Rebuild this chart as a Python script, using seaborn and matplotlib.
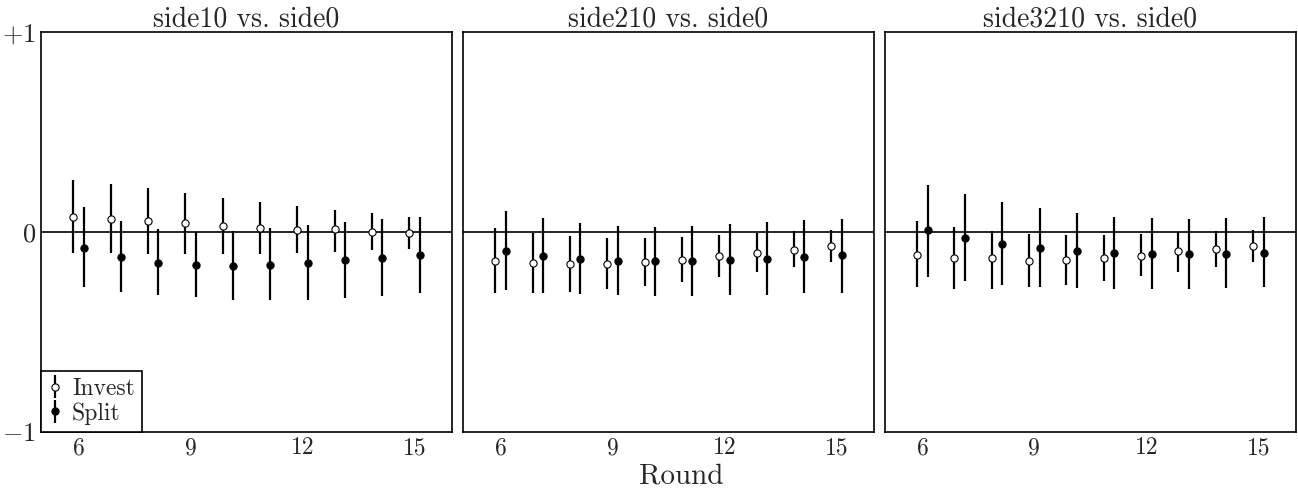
import numpy as np
import pandas as pd
import matplotlib
matplotlib.use("Agg")
import matplotlib.pyplot as plt
import seaborn as sns

# values
rounds = [6, 7, 8, 9, 10, 11, 12, 13, 14, 15]
panels = ["side10 vs. side0", "side210 vs. side0", "side3210 vs. side0"]

# side10 vs. side0
invest_mid_1 = [0.077, 0.067, 0.057, 0.043, 0.032, 0.022, 0.008, 0.013, 0.002, -0.003]
invest_top_1 = [0.260, 0.240, 0.218, 0.195, 0.172, 0.150, 0.128, 0.110, 0.093, 0.077]
invest_bot_1 = [-0.103, -0.107, -0.108, -0.108, -0.108, -0.108, -0.103, -0.098, -0.092, -0.083]
split_mid_1 = [-0.078, -0.123, -0.155, -0.165, -0.168, -0.165, -0.155, -0.138, -0.128, -0.113]
split_top_1 = [0.123, 0.055, 0.013, 0.000, 0.003, 0.018, 0.033, 0.050, 0.063, 0.075]
split_bot_1 = [-0.277, -0.298, -0.315, -0.327, -0.338, -0.342, -0.338, -0.328, -0.318, -0.307]

# side210 vs. side0
invest_mid_2 = [-0.143, -0.153, -0.158, -0.160, -0.148, -0.138, -0.118, -0.103, -0.088, -0.068]
invest_top_2 = [0.018, -0.003, -0.022, -0.028, -0.032, -0.025, -0.015, -0.003, 0.005, 0.012]
invest_bot_2 = [-0.303, -0.305, -0.298, -0.287, -0.270, -0.248, -0.225, -0.200, -0.175, -0.150]
split_mid_2 = [-0.093, -0.118, -0.135, -0.143, -0.143, -0.143, -0.138, -0.133, -0.123, -0.113]
split_top_2 = [0.105, 0.068, 0.043, 0.028, 0.025, 0.028, 0.038, 0.050, 0.062, 0.063]
split_bot_2 = [-0.290, -0.303, -0.310, -0.315, -0.318, -0.318, -0.317, -0.313, -0.307, -0.307]

# side3210 vs. side0
invest_mid_3 = [-0.113, -0.128, -0.128, -0.143, -0.138, -0.128, -0.118, -0.097, -0.083, -0.068]
invest_top_3 = [0.055, 0.027, 0.003, -0.010, -0.017, -0.015, -0.010, -0.002, 0.005, 0.012]
invest_bot_3 = [-0.277, -0.285, -0.283, -0.277, -0.263, -0.243, -0.222, -0.200, -0.175, -0.150]
split_mid_3 = [0.008, -0.028, -0.058, -0.078, -0.093, -0.103, -0.108, -0.108, -0.108, -0.103]
split_top_3 = [0.237, 0.192, 0.152, 0.118, 0.093, 0.077, 0.068, 0.065, 0.068, 0.075]
split_bot_3 = [-0.223, -0.245, -0.263, -0.273, -0.280, -0.283, -0.283, -0.283, -0.280, -0.275]

series = {
    (panels[0], "Invest"): (invest_mid_1, invest_bot_1, invest_top_1),
    (panels[0], "Split"): (split_mid_1, split_bot_1, split_top_1),
    (panels[1], "Invest"): (invest_mid_2, invest_bot_2, invest_top_2),
    (panels[1], "Split"): (split_mid_2, split_bot_2, split_top_2),
    (panels[2], "Invest"): (invest_mid_3, invest_bot_3, invest_top_3),
    (panels[2], "Split"): (split_mid_3, split_bot_3, split_top_3),
}

rows = []
for (panel, kind), (mid, bot, top) in series.items():
    for r, m, b, t in zip(rounds, mid, bot, top):
        rows.append({"panel": panel, "kind": kind, "round": r, "mid": m, "lo": b, "hi": t})
df = pd.DataFrame(rows)

sns.set_style("white")
plt.rcParams["font.family"] = ["cmr10", "DejaVu Serif"]
plt.rcParams["mathtext.fontset"] = "cm"
plt.rcParams["axes.formatter.use_mathtext"] = True
plt.rcParams["axes.edgecolor"] = "black"
plt.rcParams["axes.linewidth"] = 1.2

offset = {"Invest": -0.14, "Split": 0.14}
face = {"Invest": "white", "Split": "black"}


def draw_bars(data, **kws):
    ax = plt.gca()
    ax.axhline(0, color="black", lw=1.2, zorder=1)
    for kind in ["Invest", "Split"]:
        d = data[data["kind"] == kind]
        x = d["round"] + offset[kind]
        yerr = [d["mid"] - d["lo"], d["hi"] - d["mid"]]
        ax.errorbar(x, d["mid"], yerr=yerr, fmt="o", ms=5.2, mfc=face[kind], mec="black",
                    mew=0.8, ecolor="black", elinewidth=1.6, capsize=0, label=kind, zorder=3)


g = sns.FacetGrid(df, col="panel", col_order=panels, sharey=True, sharex=True,
                  height=4.93, aspect=(12.98 / 3) / 4.93, despine=False)
g.map_dataframe(draw_bars)
g.figure.set_size_inches(12.98, 4.93)
g.figure.subplots_adjust(left=0.0318, right=0.9982, bottom=0.1243, top=0.9345, wspace=0.0275)
g.set_titles("{col_name}", size=20, pad=4)
g.set_axis_labels("", "")

for i, ax in enumerate(g.axes.flat):
    ax.set_xlim(5, 16)
    ax.set_ylim(-1, 1)
    ax.set_xticks([6, 9, 12, 15])
    ax.set_xticklabels(["6", "9", "12", "15"], fontsize=17)
    ax.set_yticks([-1, 0, 1])
    ax.tick_params(length=0, pad=4)
    for s in ax.spines.values():
        s.set_color("black")
        s.set_linewidth(1.2)
    if i == 0:
        ax.set_yticklabels(["$-1$", "$0$", "$+1$"], fontsize=19)
        ax.legend(loc="lower left", borderaxespad=0, fontsize=17, frameon=True, fancybox=False,
                  edgecolor="black", framealpha=1, handlelength=0.6, handletextpad=0.4,
                  borderpad=0.3, labelspacing=0.1)
        ax.get_legend().get_frame().set_linewidth(1.2)

g.figure.text(0.525, 0.008, "Round", ha="center", va="bottom", fontsize=21)

g.figure.savefig("out.png", dpi=100)
